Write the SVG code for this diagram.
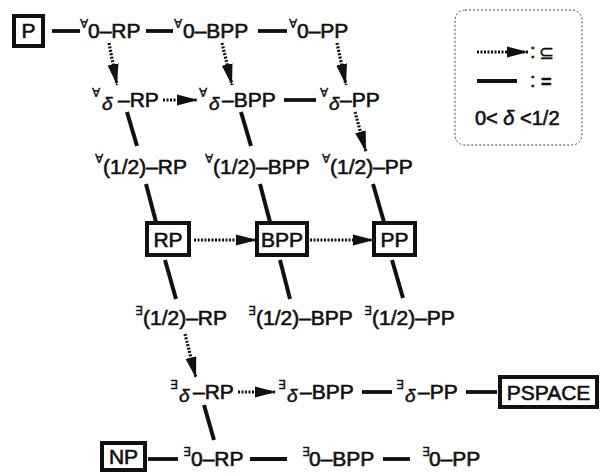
<svg xmlns="http://www.w3.org/2000/svg" width="600" height="473" viewBox="0 0 600 473">
<defs>
<marker id="ah" markerUnits="userSpaceOnUse" markerWidth="22" markerHeight="12" refX="21" refY="6" orient="auto"><path d="M0,0.5 L21,6 L0,11.5 z" fill="#111"/></marker>
</defs>
<style>
.t{font-family:"Liberation Sans",Arial,sans-serif;font-size:21px;fill:#111;stroke:#111;stroke-width:0.6}
.q{font-family:"DejaVu Sans",sans-serif;font-size:12px;fill:#111;stroke:#111;stroke-width:0.4}
.d{font-family:"Liberation Sans",Arial,sans-serif;font-size:19px;font-style:italic;fill:#111;stroke:#111;stroke-width:0.5}
.m{text-anchor:middle}
.box{fill:none;stroke:#111;stroke-width:4}
.eq{stroke:#111;stroke-width:3.8;fill:none}
.sl{stroke:#111;stroke-width:4;fill:none}
.sub{stroke:#111;stroke-width:3.2;stroke-dasharray:2 1.5;fill:none;marker-end:url(#ah)}
</style>
<rect width="600" height="473" fill="#fff"/>
<g id="connectors">
<line class="eq" x1="52" y1="31" x2="80" y2="31"/>
<line class="eq" x1="146" y1="31" x2="173" y2="31"/>
<line class="eq" x1="258" y1="31" x2="287" y2="31"/>
<line class="sub" x1="109" y1="43" x2="117" y2="85"/>
<line class="sub" x1="222" y1="43" x2="232" y2="85"/>
<line class="sub" x1="337" y1="43" x2="346" y2="85"/>
<line class="sub" x1="163" y1="100" x2="198" y2="100"/>
<line class="eq" x1="284" y1="100" x2="316" y2="100"/>
<line class="sl" x1="127" y1="112" x2="137" y2="146"/>
<line class="sl" x1="241" y1="112" x2="251" y2="146"/>
<line class="sub" x1="355" y1="112" x2="366" y2="152"/>
<line class="sl" x1="146" y1="184" x2="156" y2="222"/>
<line class="sl" x1="260" y1="184" x2="270" y2="222"/>
<line class="sl" x1="373" y1="184" x2="384" y2="222"/>
<line class="sub" x1="194" y1="240" x2="257" y2="240"/>
<line class="sub" x1="310" y1="240" x2="374" y2="240"/>
<line class="sl" x1="165" y1="260" x2="176" y2="299"/>
<line class="sl" x1="280" y1="260" x2="290" y2="299"/>
<line class="sl" x1="392" y1="260" x2="403" y2="298"/>
<line class="sub" x1="185" y1="334" x2="196" y2="378"/>
<line class="sub" x1="238" y1="392" x2="276" y2="392"/>
<line class="eq" x1="362" y1="392" x2="392" y2="392"/>
<line class="eq" x1="466" y1="392" x2="497" y2="392"/>
<line class="sl" x1="204" y1="405" x2="214" y2="440"/>
<line class="eq" x1="148" y1="459" x2="178" y2="459"/>
<line class="eq" x1="250" y1="459" x2="287" y2="459"/>
<line class="eq" x1="383" y1="459" x2="410" y2="459"/>
</g>
<g id="P"><rect class="box" x="14" y="16" width="29" height="30"/><text class="t m" x="28.5" y="38">P</text></g>
<g id="A0RP"><text class="q" x="80" y="28">∀</text><text class="t" x="88" y="38">0–RP</text></g>
<g id="A0BPP"><text class="q" x="174" y="28">∀</text><text class="t" x="183" y="38">0–BPP</text></g>
<g id="A0PP"><text class="q" x="289" y="28">∀</text><text class="t" x="297" y="38">0–PP</text></g>
<g id="AdRP"><text class="q" x="92" y="97">∀</text><text class="d" x="102" y="110">δ</text><text class="t" x="118" y="107">–RP</text></g>
<g id="AdBPP"><text class="q" x="199" y="97">∀</text><text class="d" x="209" y="110">δ</text><text class="t" x="222" y="107">–BPP</text></g>
<g id="AdPP"><text class="q" x="320" y="97">∀</text><text class="d" x="329" y="110">δ</text><text class="t" x="340" y="107">–PP</text></g>
<g id="AhRP"><text class="q" x="95" y="163">∀</text><text class="t" x="103" y="174">(1/2)–RP</text></g>
<g id="AhBPP"><text class="q" x="205" y="163">∀</text><text class="t" x="213" y="174">(1/2)–BPP</text></g>
<g id="AhPP"><text class="q" x="322" y="163">∀</text><text class="t" x="330" y="174">(1/2)–PP</text></g>
<g id="RP"><rect class="box" x="147" y="223" width="42" height="32"/><text class="t m" x="168" y="247">RP</text></g>
<g id="BPP"><rect class="box" x="257" y="223" width="50" height="32"/><text class="t m" x="282" y="247">BPP</text></g>
<g id="PP"><rect class="box" x="374" y="223" width="41" height="32"/><text class="t m" x="394.5" y="247">PP</text></g>
<g id="EhRP"><text class="q" x="135" y="315">∃</text><text class="t" x="143" y="325">(1/2)–RP</text></g>
<g id="EhBPP"><text class="q" x="248" y="315">∃</text><text class="t" x="256" y="325">(1/2)–BPP</text></g>
<g id="EhPP"><text class="q" x="364" y="315">∃</text><text class="t" x="372" y="325">(1/2)–PP</text></g>
<g id="EdRP"><text class="q" x="170" y="389">∃</text><text class="d" x="179" y="402">δ</text><text class="t" x="193" y="399">–RP</text></g>
<g id="EdBPP"><text class="q" x="278" y="389">∃</text><text class="d" x="287" y="402">δ</text><text class="t" x="300" y="399">–BPP</text></g>
<g id="EdPP"><text class="q" x="396" y="389">∃</text><text class="d" x="405" y="402">δ</text><text class="t" x="418" y="399">–PP</text></g>
<g id="PSPACE"><rect class="box" x="500" y="377" width="97" height="30"/><text class="t m" x="548.5" y="400">PSPACE</text></g>
<g id="NP"><rect class="box" x="102" y="443" width="43" height="27"/><text class="t m" x="123.5" y="464">NP</text></g>
<g id="E0RP"><text class="q" x="183" y="456">∃</text><text class="t" x="191" y="466">0–RP</text></g>
<g id="E0BPP"><text class="q" x="302" y="456">∃</text><text class="t" x="309" y="466">0–BPP</text></g>
<g id="E0PP"><text class="q" x="422" y="456">∃</text><text class="t" x="429" y="466">0–PP</text></g>
<g id="legend">
<rect x="455" y="10" width="127" height="135" rx="10" fill="none" stroke="#444" stroke-width="1" stroke-dasharray="2 2"/>
<line class="sub" x1="477" y1="52" x2="528" y2="52"/>
<text class="t" x="530" y="58" style="font-size:20px">:</text>
<text class="q" x="539" y="59" style="font-size:18px">⊆</text>
<line class="eq" x1="477" y1="81" x2="517" y2="81"/>
<text class="t" x="530" y="87" style="font-size:20px">:</text>
<text class="t" x="541" y="88" style="font-size:18px;font-weight:bold">=</text>
<text class="t" x="475" y="125" style="font-size:20px">0&lt; <tspan font-style="italic">δ</tspan> &lt;1/2</text>
</g>
</svg>
